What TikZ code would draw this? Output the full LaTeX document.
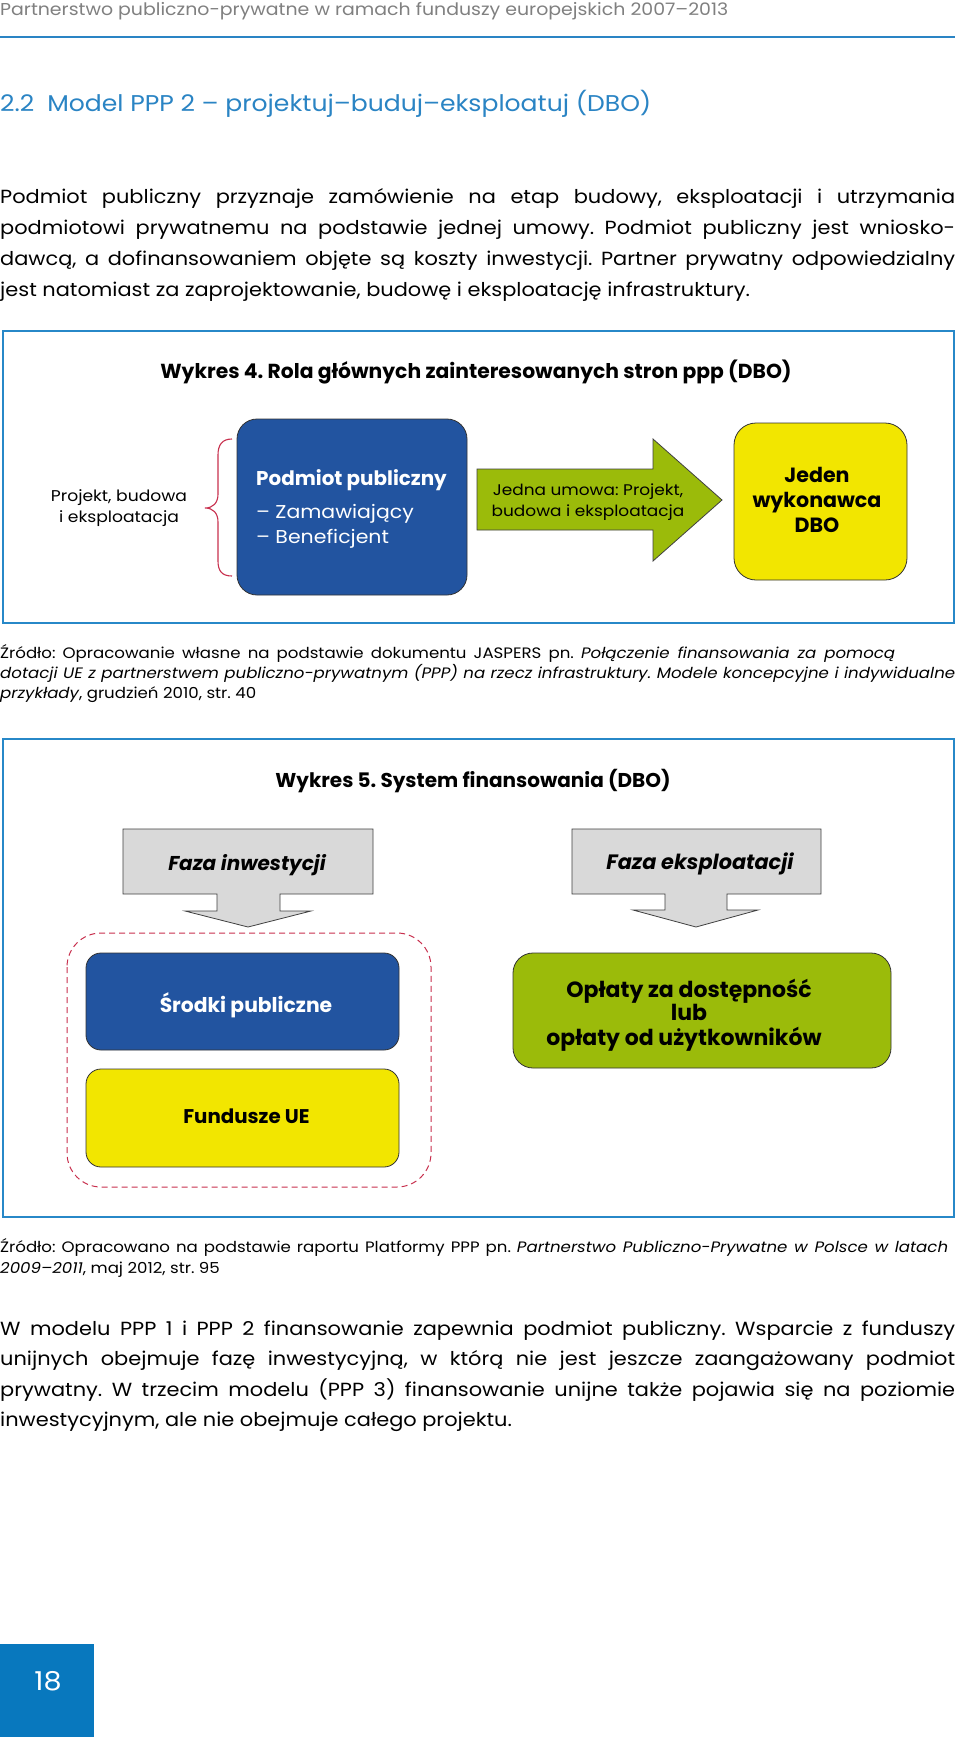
\documentclass[tikz,border=0pt]{standalone}
\usepackage{fontspec}
\setmainfont{Poppins}[FakeStretch=1.1]
\newfontfamily\bfam{Poppins}
\definecolor{hdrgray}{HTML}{808080}
\definecolor{topblue}{HTML}{2A84C4}
\definecolor{frameblue}{HTML}{2788C8}
\definecolor{boxblue}{HTML}{2254A0}
\definecolor{boxgreen}{HTML}{9BBB0A}
\definecolor{boxyellow}{HTML}{F2E600}
\definecolor{arrgray}{HTML}{D9D9D9}
\definecolor{dashred}{HTML}{C8304E}
\definecolor{pageblue}{HTML}{0878BE}
\newcommand{\fs}[1]{\fontsize{#1}{#1}\selectfont}
\frenchspacing
\begin{document}
\begin{tikzpicture}[x=1pt,y=-1pt,
  lw/.style={inner sep=0pt, anchor=base west},
  ct/.style={inner sep=0pt, anchor=base},
  frame/.style={draw=frameblue, line width=2.4pt},
  rbox/.style={draw=black!80, line width=0.8pt, rounded corners=#1},
  para/.style={font=\frenchspacing\fs{19}},
  src/.style={font=\frenchspacing\fs{15.1}},
  diag/.style={font=\fs{15.4}},
  bold/.style={font=\bfam\bfseries\fs{#1}},
  boldital/.style={font=\bfam\bfseries\itshape\fs{#1}}
]
\useasboundingbox (0,0) rectangle (960,1737);
\fill[white] (0,0) rectangle (960,1737);

% header
\node[lw, text=hdrgray, font=\fs{17.2}] (hdr) at (0,16) {Partnerstwo publiczno-prywatne w ramach funduszy europejskich 2007–2013};
\draw[topblue, line width=2.5pt] (0,37) -- (955,37);
\node[lw, text=topblue, font=\fs{22.8}] (h22) at (0,111) {2.2\hspace{13pt}Model PPP 2 – projektuj–buduj–eksploatuj (DBO)};

% paragraph 1
\node[lw, para] (p1a) at (0,203) {\makebox[955pt][s]{Podmiot publiczny przyznaje zamówienie na etap budowy, eksploatacji i utrzymania}};
\node[lw, para] (p1b) at (0,234) {\makebox[955pt][s]{podmiotowi prywatnemu na podstawie jednej umowy. Podmiot publiczny jest wniosko-}};
\node[lw, para] (p1c) at (0,265) {\makebox[955pt][s]{dawcą, a dofinansowaniem objęte są koszty inwestycji. Partner prywatny odpowiedzialny}};
\node[lw, para] (p1d) at (0,296) {jest natomiast za zaprojektowanie, budowę i eksploatację infrastruktury.};

% figure 4
\draw[frame] (3,331) rectangle (954,623);
\node[ct, bold=20.3] (t4) at (476,378) {Wykres 4. Rola głównych zainteresowanych stron ppp (DBO)};

\node[ct, diag, font=\fs{15.6}] (pbe) at (119,501) {Projekt, budowa};
\node[ct, diag, font=\fs{15.6}] (pbe2) at (119,522) {i eksploatacja};
\draw[dashred, line width=1.1pt] (232,439) .. controls (222,439) and (218,445) .. (218,455) -- (218,494)
  .. controls (218,503) and (213,508) .. (205,508) .. controls (213,508) and (218,513) .. (218,522)
  -- (218,561) .. controls (218,571) and (222,576) .. (232,576);

\node[rbox=20pt, fill=boxblue, minimum width=230pt, minimum height=176pt] (pp) at (352,507) {};
\node[lw, text=white, bold=19.9] (pp1) at (256,485) {Podmiot publiczny};
\node[lw, text=white, font=\fs{18.6}] (pp2) at (256,518) {– Zamawiający};
\node[lw, text=white, font=\fs{18.6}] (pp3) at (256,543) {– Beneficjent};

\draw[fill=boxgreen, draw=black!75, line width=0.8pt] (477,469) -- (653,469) -- (653,439) -- (722,500) -- (653,561) -- (653,530) -- (477,530) -- cycle;
\node[ct, diag] (ar1) at (588,495) {Jedna umowa: Projekt,};
\node[ct, diag] (ar2) at (588,516) {budowa i eksploatacja};

\node[rbox=22pt, fill=boxyellow, minimum width=173pt, minimum height=157pt] (dbo) at (820.5,501.5) {};
\node[ct, bold=20.6] (dbo1) at (817,482) {Jeden};
\node[ct, bold=20.6] (dbo2) at (817,507) {wykonawca};
\node[ct, bold=20.6] (dbo3) at (817,532) {DBO};

% source 1
\node[lw, src] (s1a) at (0,658) {\makebox[895pt][s]{Źródło: Opracowanie własne na podstawie dokumentu JASPERS pn. \textit{Połączenie finansowania za pomocą}}};
\node[lw, src] (s1b) at (0,678) {\makebox[955pt][s]{\textit{dotacji UE z partnerstwem publiczno-prywatnym (PPP) na rzecz infrastruktury. Modele koncepcyjne i indywidualne}}};
\node[lw, src] (s1c) at (0,698) {\textit{przykłady}, grudzień 2010, str. 40};

% figure 5
\draw[frame] (3,739) rectangle (954,1217);
\node[ct, bold=20] (t5) at (473,787) {Wykres 5. System finansowania (DBO)};

\draw[fill=arrgray, draw=black!75, line width=0.8pt] (123,829) -- (373,829) -- (373,894) -- (280,894) -- (280,911) -- (311,911) -- (248,927) -- (185,911) -- (217,911) -- (217,894) -- (123,894) -- cycle;
\node[ct, boldital=20] (fi) at (247,870) {Faza inwestycji};
\draw[fill=arrgray, draw=black!75, line width=0.8pt] (572,829) -- (821,829) -- (821,894) -- (727,894) -- (727,910) -- (758,910) -- (696,927) -- (633,910) -- (665,910) -- (665,894) -- (572,894) -- cycle;
\node[ct, boldital=20.8] (fe) at (700,869) {Faza eksploatacji};

\draw[dashred, line width=1pt, dash pattern=on 6pt off 4pt, rounded corners=34pt] (67,933) rectangle (431,1187);
\node[rbox=15pt, fill=boxblue, minimum width=313pt, minimum height=97pt] (sp) at (242.5,1001.5) {};
\node[ct, text=white, bold=20.3] (spt) at (246,1012) {Środki publiczne};
\node[rbox=15pt, fill=boxyellow, minimum width=313pt, minimum height=98pt] (fu) at (242.5,1118) {};
\node[ct, bold=19.8] (fut) at (246.5,1123) {Fundusze UE};

\node[rbox=20pt, fill=boxgreen, minimum width=378pt, minimum height=115pt] (op) at (702,1010.5) {};
\node[ct, bold=22] (op1) at (689,997) {Opłaty za dostępność};
\node[ct, bold=22] (op2) at (689,1020) {lub};
\node[ct, bold=22] (op3) at (684,1045) {opłaty od użytkowników};

% source 2
\node[lw, src] (s2a) at (0,1252) {\makebox[948pt][s]{Źródło: Opracowano na podstawie raportu Platformy PPP pn. \textit{Partnerstwo Publiczno-Prywatne w Polsce w latach}}};
\node[lw, src] (s2b) at (0,1273) {\textit{2009–2011}, maj 2012, str. 95};

% paragraph 2
\node[lw, para] (p2a) at (0,1335) {\makebox[955pt][s]{W modelu PPP 1 i PPP 2 finansowanie zapewnia podmiot publiczny. Wsparcie z funduszy}};
\node[lw, para] (p2b) at (0,1365) {\makebox[955pt][s]{unijnych obejmuje fazę inwestycyjną, w którą nie jest jeszcze zaangażowany podmiot}};
\node[lw, para] (p2c) at (0,1396) {\makebox[955pt][s]{prywatny. W trzecim modelu (PPP 3) finansowanie unijne także pojawia się na poziomie}};
\node[lw, para] (p2d) at (0,1426) {inwestycyjnym, ale nie obejmuje całego projektu.};

% page number
\fill[pageblue] (0,1644) rectangle (94,1737);
\node[text=white, font=\fs{26}, inner sep=0pt] (pg) at (48,1681) {18};
\end{tikzpicture}
\end{document}
